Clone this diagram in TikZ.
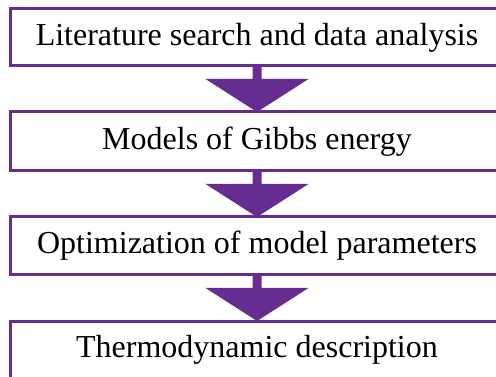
\documentclass[tikz,border=0pt]{standalone}
\usepackage{fontspec}
\setmainfont{Liberation Serif}
\usetikzlibrary{calc}
\definecolor{boxpurple}{RGB}{102,45,145}
\begin{document}
\begin{tikzpicture}[x=1pt,y=-1pt,
  stepbox/.style={draw=boxpurple, line width=3pt, fill=white, minimum width=494pt,
    inner sep=0pt, outer sep=0pt, font=\fontsize{32}{38}\selectfont},
  flowarrow/.style={fill=boxpurple}]
\clip (0,0) rectangle (496,377);
\fill[white] (0,0) rectangle (496,377);
\node[stepbox, minimum height=57pt] (b1) at (257,37.5) {Literature search and data analysis};
\node[stepbox, minimum height=59pt] (b2) at (257,141.5) {Models of Gibbs energy};
\node[stepbox, minimum height=58pt] (b3) at (257,246) {Optimization of model parameters};
\node[stepbox, minimum height=58pt] (b4) at (257,350) {Thermodynamic description};
\foreach \a/\b in {b1/b2,b2/b3,b3/b4}{
  \fill[flowarrow] ($(\a.south)+(-4.5,0)$) -- ($(\a.south)+(4.5,0)$)
    -- ($(\b.north)+(4.5,-33)$) -- ($(\b.north)+(51.5,-33)$) -- (\b.north)
    -- ($(\b.north)+(-51.5,-33)$) -- ($(\b.north)+(-4.5,-33)$) -- cycle;
}
\end{tikzpicture}
\end{document}
